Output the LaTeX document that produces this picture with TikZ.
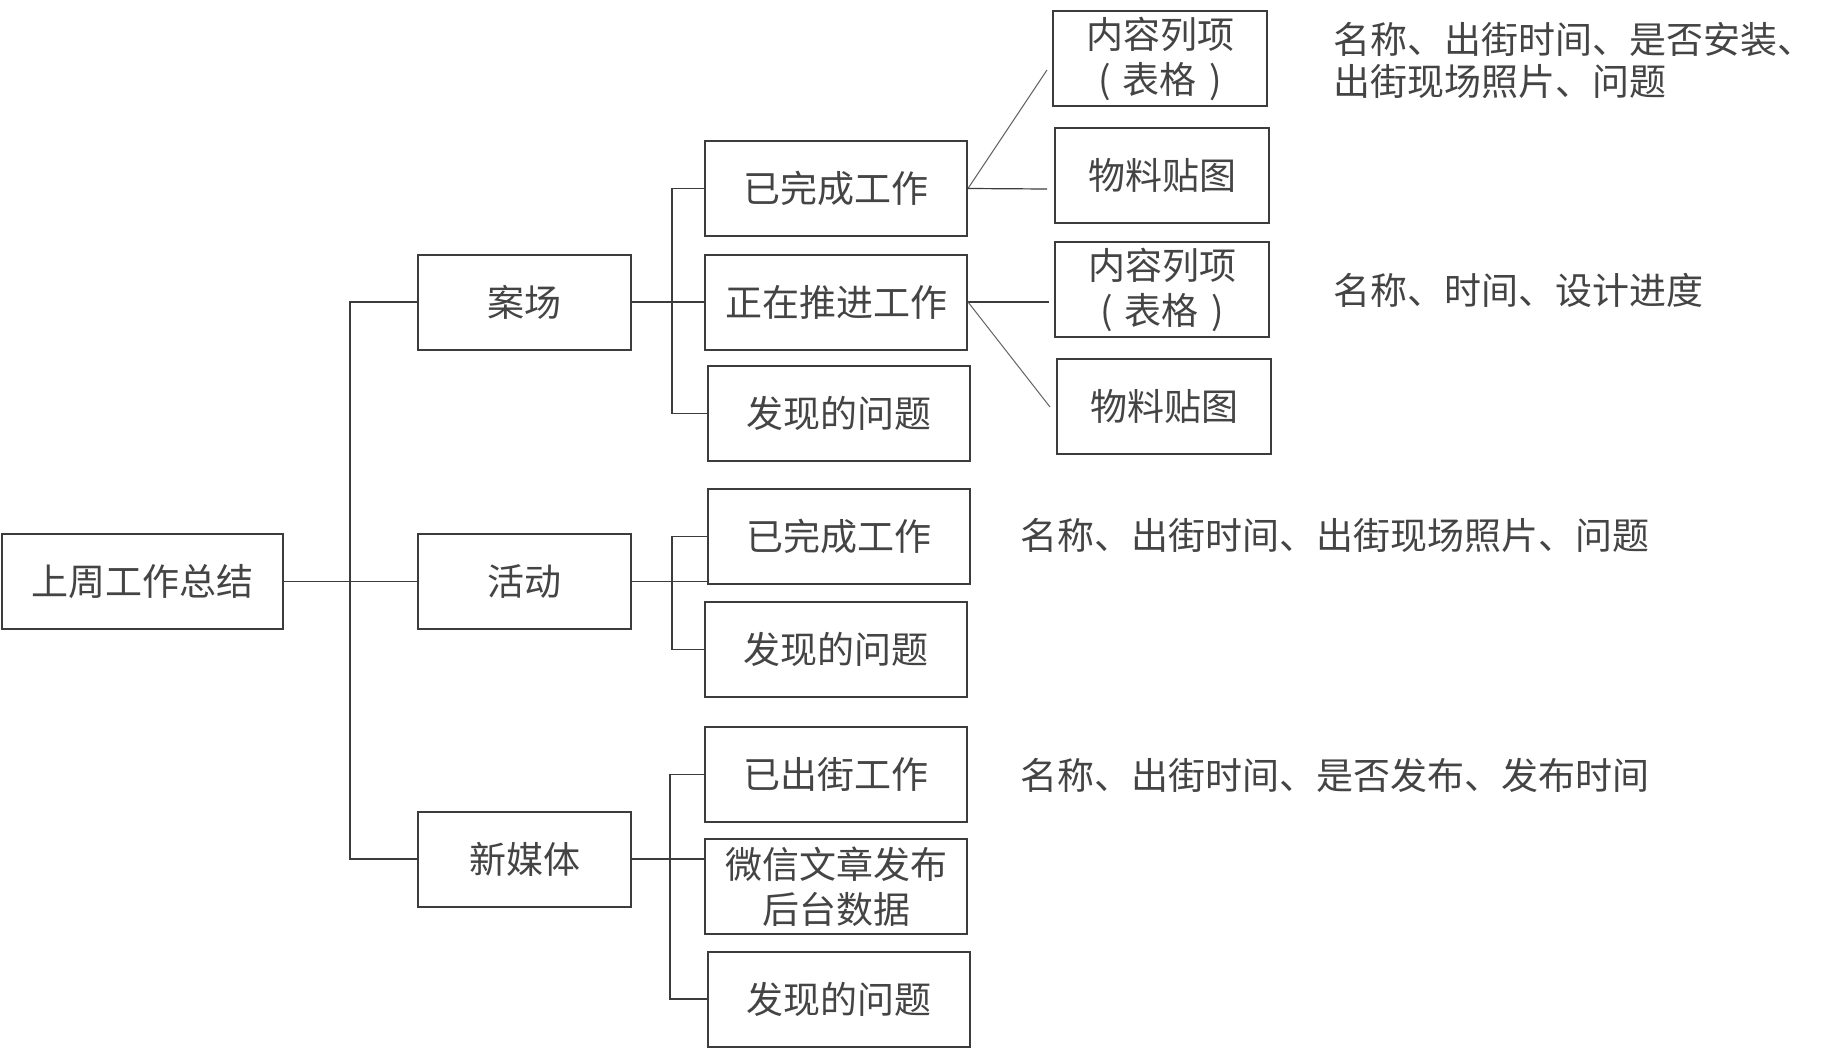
\documentclass[tikz,border=0pt]{standalone}
\usepackage{fontspec}
\newfontfamily\cjk{Noto Sans CJK SC}
\definecolor{linec}{HTML}{3C3C3C}
\definecolor{textc}{HTML}{444444}
\newcommand{\fwparen}[1]{\makebox[1em][c]{#1}}
\begin{document}
\begin{tikzpicture}[x={(0.5pt,0)},y={(0,-0.5pt)},
  box/.style={draw=linec,line width=1pt,inner sep=0pt,minimum height=47.5pt,
    text=textc,align=center,font=\cjk\fontsize{18.5}{22.5}\selectfont},
  rootbox/.style={box,minimum width=140.5pt},
  midbox/.style={box,minimum width=106.5pt},
  leafbox/.style={box,minimum width=131pt},
  farbox/.style={box,minimum width=107pt},
  conn/.style={draw=linec,line width=0.6pt},
  slant/.style={draw=linec!80,line width=0.5pt},
  note/.style={inner sep=0pt,anchor=west,text=textc,align=left,
    font=\cjk\fontsize{18.5}{21}\selectfont}]
\useasboundingbox (0,0) rectangle (1847,1049);
\fill[white] (0,0) rectangle (1847,1049);
% level 0
\node[rootbox] (root) at (142.5,581.5) {上周工作总结};
% level 1
\node[midbox] (anchang) at (524.5,302) {案场};
\node[midbox] (huodong) at (524.5,581.5) {活动};
\node[midbox] (xinmeiti) at (524.5,859) {新媒体};
% level 2
\node[leafbox] (a1) at (836,188.5) {已完成工作};
\node[leafbox] (a2) at (836,302) {正在推进工作};
\node[leafbox] (a3) at (838.5,413.5) {发现的问题};
\node[leafbox] (h1) at (838.5,536.5) {已完成工作};
\node[leafbox] (h2) at (836,649.5) {发现的问题};
\node[leafbox] (x1) at (836,774.5) {已出街工作};
\node[leafbox] (x2) at (836,886.5) {微信文章发布\\后台数据};
\node[leafbox] (x3) at (838.5,999) {发现的问题};
% level 3
\node[farbox] (n1) at (1160,58.5) {内容列项\\\fwparen{(}表格\fwparen{)}};
\node[farbox] (n2) at (1162,175.5) {物料贴图};
\node[farbox] (n3) at (1162,289.5) {内容列项\\\fwparen{(}表格\fwparen{)}};
\node[farbox] (n4) at (1164,406.5) {物料贴图};
% notes
\node[note] (t1) at (1333,60) {名称、出街时间、是否安装、\\出街现场照片、问题};
\node[note] (t2) at (1333,290) {名称、时间、设计进度};
\node[note] (t3) at (1020,535) {名称、出街时间、出街现场照片、问题};
\node[note] (t4) at (1020,775) {名称、出街时间、是否发布、发布时间};
% trunk
\coordinate (trunk) at (350,0);
\draw[conn] (root.east) -- (huodong.west);
\draw[conn] (anchang.west) -| (trunk |- xinmeiti.west) -- (xinmeiti.west);
% 案场 bracket
\coordinate (ab) at (672,0);
\draw[conn] (anchang.east) -- (a2.west);
\draw[conn] (a1.west) -| (ab |- a3.west) -- (a3.west);
% 活动 bracket
\draw[conn] (huodong.east) -- (h1.west |- huodong.east);
\draw[conn] (h1.west) -| (ab |- h2.west) -- (h2.west);
% 新媒体 bracket
\coordinate (xb) at (670,0);
\draw[conn] (xinmeiti.east) -- (x2.west |- xinmeiti.east);
\draw[conn] (x1.west) -| (xb |- x3.west) -- (x3.west);
% fan-out lines
\coordinate (e1) at (1047,70);
\coordinate (e2) at (1047,189);
\coordinate (e3) at (1049,302);
\coordinate (e4) at (1050,407);
\draw[slant] (a1.east) -- (e1);
\draw[conn] (a1.east) -- (e2);
\draw[conn] (a2.east) -- (e3);
\draw[slant] (a2.east) -- (e4);
\end{tikzpicture}
\end{document}
